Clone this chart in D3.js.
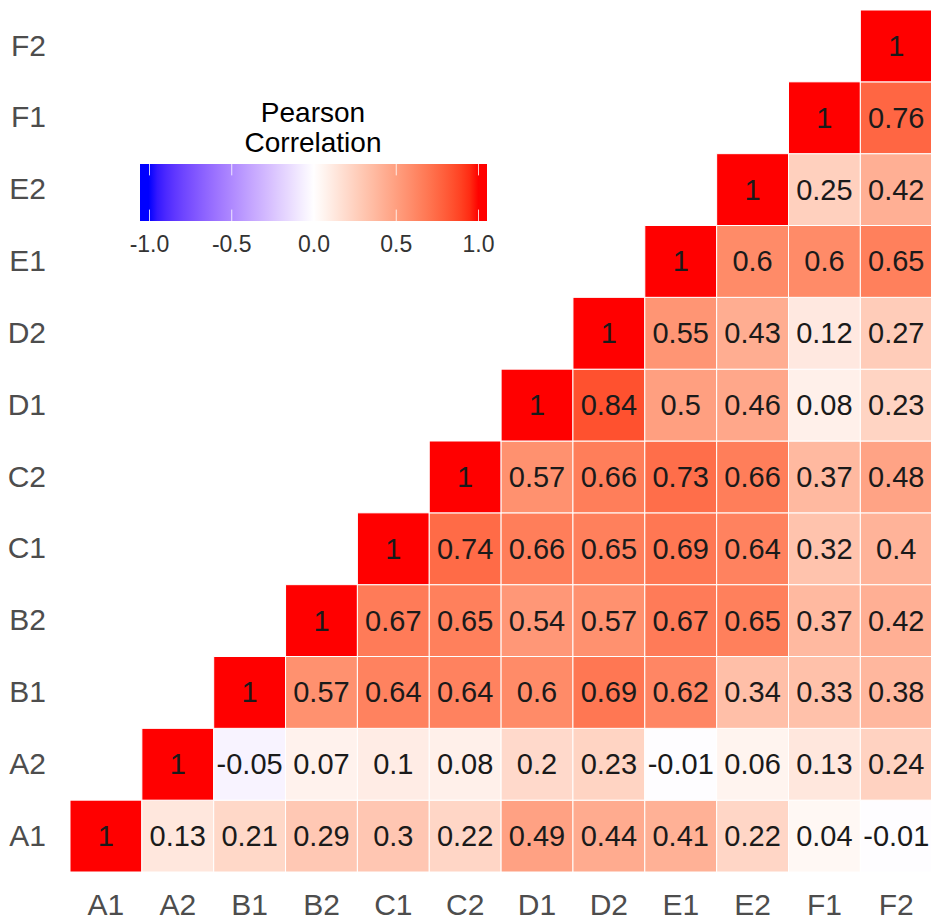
<!DOCTYPE html>
<html>
<head>
<meta charset="utf-8">
<script src="https://cdn.jsdelivr.net/npm/d3@7"></script>
<style>
  body { margin: 0; background: #fff; }
  svg { display: block; font-family: "Liberation Sans", Arial, sans-serif; }
</style>
</head>
<body>
<div id="chart"></div>
<script>
// variables, bottom-to-top on y and left-to-right on x
var vars = ["A1", "A2", "B1", "B2", "C1", "C2", "D1", "D2", "E1", "E2", "F1", "F2"];

// upper triangle, one row per variable, starting at the diagonal
var rowA1 = [1, 0.13, 0.21, 0.29, 0.3, 0.22, 0.49, 0.44, 0.41, 0.22, 0.04, -0.01];
var rowA2 = [1, -0.05, 0.07, 0.1, 0.08, 0.2, 0.23, -0.01, 0.06, 0.13, 0.24];
var rowB1 = [1, 0.57, 0.64, 0.64, 0.6, 0.69, 0.62, 0.34, 0.33, 0.38];
var rowB2 = [1, 0.67, 0.65, 0.54, 0.57, 0.67, 0.65, 0.37, 0.42];
var rowC1 = [1, 0.74, 0.66, 0.65, 0.69, 0.64, 0.32, 0.4];
var rowC2 = [1, 0.57, 0.66, 0.73, 0.66, 0.37, 0.48];
var rowD1 = [1, 0.84, 0.5, 0.46, 0.08, 0.23];
var rowD2 = [1, 0.55, 0.43, 0.12, 0.27];
var rowE1 = [1, 0.6, 0.6, 0.65];
var rowE2 = [1, 0.25, 0.42];
var rowF1 = [1, 0.76];
var rowF2 = [1];
var rows = [rowA1, rowA2, rowB1, rowB2, rowC1, rowC2, rowD1, rowD2, rowE1, rowE2, rowF1, rowF2];

var legendTicks = [-1.0, -0.5, 0.0, 0.5, 1.0];

var width = 931, height = 921;

// flatten into cells
var cells = [];
rows.forEach(function(r, i){
	r.forEach(function(v, k){
		cells.push({ x: vars[i + k], y: vars[i], value: v });
	});
});

var svg = d3.select("#chart").append("svg")
	.attr("width", width).attr("height", height);

var x = d3.scaleBand().domain(vars).range([70, 70 + 12 * 71.85]).padding(0);
var y = d3.scaleBand().domain(vars.slice().reverse()).range([10, 872]).padding(0);

// blue - white - red, interpolated in Lab like ggplot's gradient2
var color = d3.scaleLinear()
	.domain([-1, 0, 1])
	.range(["blue", "white", "red"])
	.interpolate(d3.interpolateLab)
	.clamp(true);

// tiles
svg.append("g").selectAll("rect")
	.data(cells).enter().append("rect")
	.attr("x", function(d){ return x(d.x); })
	.attr("y", function(d){ return y(d.y); })
	.attr("width", x.bandwidth())
	.attr("height", y.bandwidth())
	.attr("fill", function(d){ return color(d.value); })
	.attr("stroke", "white")
	.attr("stroke-width", 1);

// values
svg.append("g").selectAll("text")
	.data(cells).enter().append("text")
	.attr("x", function(d){ return x(d.x) + x.bandwidth() / 2; })
	.attr("y", function(d){ return y(d.y) + y.bandwidth() / 2 + 10; })
	.attr("text-anchor", "middle")
	.attr("font-size", 29)
	.attr("fill", "#1a1a1a")
	.text(function(d){ return String(d.value); });

// axes
var xAxis = d3.axisBottom(x).tickSize(0).tickPadding(22);
var gX = svg.append("g").attr("transform", "translate(0,872)").call(xAxis);
var yAxis = d3.axisLeft(y).tickSize(0).tickPadding(24);
var gY = svg.append("g").attr("transform", "translate(70,0)").call(yAxis);

[gX, gY].forEach(function(g){
	g.select(".domain").remove();
	g.selectAll("text")
		.attr("font-size", 30)
		.attr("font-family", "Liberation Sans, Arial, sans-serif")
		.attr("fill", "#4d4d4d");
});
gX.selectAll("text").attr("dy", "0.71em");

// legend
var legend = svg.append("g");
legend.append("text")
	.attr("x", 313).attr("y", 122)
	.attr("text-anchor", "middle")
	.attr("font-size", 28)
	.text("Pearson");
legend.append("text")
	.attr("x", 313).attr("y", 152)
	.attr("text-anchor", "middle")
	.attr("font-size", 28)
	.text("Correlation");

var barX0 = 140, barX1 = 487, barY0 = 164, barY1 = 221;
var lx = d3.scaleLinear().domain([-1, 1]).range([149.5, 478.5]);

var grad = svg.append("defs").append("linearGradient")
	.attr("id", "corrGrad")
	.attr("gradientUnits", "userSpaceOnUse")
	.attr("x1", barX0).attr("x2", barX1).attr("y1", 0).attr("y2", 0);
d3.range(0, 41).forEach(function(i){
	var px = barX0 + (barX1 - barX0) * i / 40;
	grad.append("stop")
		.attr("offset", (i / 40 * 100) + "%")
		.attr("stop-color", color(lx.invert(px)));
});

legend.append("rect")
	.attr("x", barX0).attr("y", barY0)
	.attr("width", barX1 - barX0).attr("height", barY1 - barY0)
	.attr("fill", "url(#corrGrad)");

var tickLen = (barY1 - barY0) / 5;
legendTicks.forEach(function(t){
	legend.append("line")
		.attr("x1", lx(t)).attr("x2", lx(t))
		.attr("y1", barY0).attr("y2", barY0 + tickLen)
		.attr("stroke", "white").attr("stroke-opacity", 0.8);
	legend.append("line")
		.attr("x1", lx(t)).attr("x2", lx(t))
		.attr("y1", barY1 - tickLen).attr("y2", barY1)
		.attr("stroke", "white").attr("stroke-opacity", 0.8);
	legend.append("text")
		.attr("x", lx(t)).attr("y", 252)
		.attr("text-anchor", "middle")
		.attr("font-size", 23)
		.attr("fill", "#333")
		.text(t.toFixed(1));
});
</script>
</body>
</html>
